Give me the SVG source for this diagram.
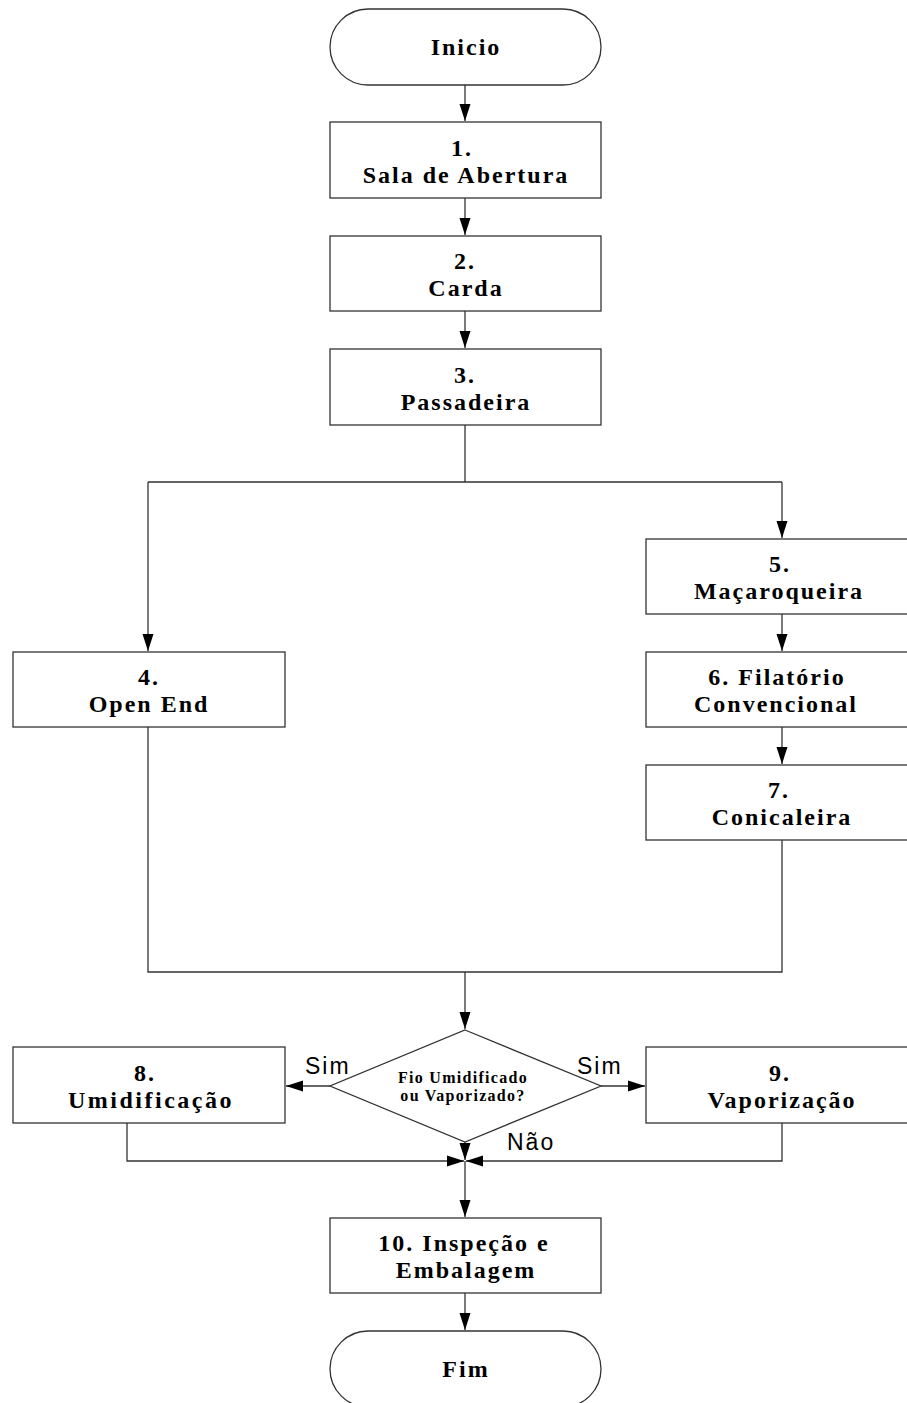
<svg xmlns="http://www.w3.org/2000/svg" width="907" height="1403" viewBox="0 0 907 1403">
<defs>
<marker id="ah" markerWidth="10" markerHeight="10" viewBox="0 0 10 10" refX="10" refY="5" orient="auto" markerUnits="userSpaceOnUse" style="overflow:visible">
<path d="M0,0 L10,5 L0,10 Z" fill="#000" transform="scale(1.7,1.1) translate(-4.1,-0.45)"/>
</marker>
<style>
.box{fill:#fff;stroke:#333;stroke-width:1.3}
.t{font-family:"Liberation Serif","Times New Roman",serif;font-weight:bold;font-size:24px;text-anchor:middle;fill:#000;letter-spacing:2px}
.d{font-family:"Liberation Serif","Times New Roman",serif;font-weight:bold;font-size:16px;text-anchor:middle;fill:#000;letter-spacing:1.3px}
.l{font-family:"Liberation Sans",Arial,sans-serif;font-size:23px;fill:#000;letter-spacing:2px}
.c{fill:none;stroke:#333;stroke-width:1.3}
</style>
</defs>
<rect width="907" height="1403" fill="#fff"/>
<g id="connectors">
<path class="c" d="M465,85 V121" marker-end="url(#ah)"/>
<path class="c" d="M465,198 V235" marker-end="url(#ah)"/>
<path class="c" d="M465,311 V348" marker-end="url(#ah)"/>
<path class="c" d="M465,425 V482 M148,482 H782"/>
<path class="c" d="M148,482 V651" marker-end="url(#ah)"/>
<path class="c" d="M782,482 V538" marker-end="url(#ah)"/>
<path class="c" d="M782,614 V651" marker-end="url(#ah)"/>
<path class="c" d="M782,727 V764" marker-end="url(#ah)"/>
<path class="c" d="M148,727 V972 H782 V840"/>
<path class="c" d="M465,972 V1029" marker-end="url(#ah)"/>
<path class="c" d="M330,1086 H286" marker-end="url(#ah)"/>
<path class="c" d="M601,1086 H645" marker-end="url(#ah)"/>
<path class="c" d="M465,1142 V1160" marker-end="url(#ah)"/>
<path class="c" d="M127,1123 V1161 H464" marker-end="url(#ah)"/>
<path class="c" d="M782,1123 V1161 H466" marker-end="url(#ah)"/>
<path class="c" d="M465,1161 V1217" marker-end="url(#ah)"/>
<path class="c" d="M465,1293 V1330" marker-end="url(#ah)"/>
</g>
<g id="inicio">
<rect class="box" x="330" y="9" width="271" height="76" rx="38" ry="38"/>
<text class="t" x="466" y="55">Inicio</text>
</g>
<g id="n1">
<rect class="box" x="330" y="122" width="271" height="76"/>
<text class="t" x="462" y="156">1.</text>
<text class="t" x="466" y="183">Sala de Abertura</text>
</g>
<g id="n2">
<rect class="box" x="330" y="236" width="271" height="75"/>
<text class="t" x="465" y="269">2.</text>
<text class="t" x="466" y="296">Carda</text>
</g>
<g id="n3">
<rect class="box" x="330" y="349" width="271" height="76"/>
<text class="t" x="465" y="383">3.</text>
<text class="t" x="466" y="410">Passadeira</text>
</g>
<g id="n4">
<rect class="box" x="13" y="652" width="272" height="75"/>
<text class="t" x="149" y="685">4.</text>
<text class="t" x="149" y="712">Open End</text>
</g>
<g id="n5">
<rect class="box" x="646" y="539" width="272" height="75"/>
<text class="t" x="780" y="572">5.</text>
<text class="t" x="779" y="599">Maçaroqueira</text>
</g>
<g id="n6">
<rect class="box" x="646" y="652" width="272" height="75"/>
<text class="t" x="777" y="685">6. Filatório</text>
<text class="t" x="776" y="712">Convencional</text>
</g>
<g id="n7">
<rect class="box" x="646" y="765" width="272" height="75"/>
<text class="t" x="779" y="798">7.</text>
<text class="t" x="782" y="825">Conicaleira</text>
</g>
<g id="decision">
<polygon class="box" points="465,1030 601,1086 465,1142 330,1086"/>
<text class="d" x="463" y="1083">Fio Umidificado</text>
<text class="d" x="463" y="1101">ou Vaporizado?</text>
</g>
<g id="n8">
<rect class="box" x="13" y="1047" width="272" height="76"/>
<text class="t" x="145" y="1081">8.</text>
<text class="t" x="151" y="1108" style="letter-spacing:2.5px">Umidificação</text>
</g>
<g id="n9">
<rect class="box" x="646" y="1047" width="272" height="76"/>
<text class="t" x="780" y="1081">9.</text>
<text class="t" x="782" y="1108">Vaporização</text>
</g>
<g id="n10">
<rect class="box" x="330" y="1218" width="271" height="75"/>
<text class="t" x="464" y="1251">10. Inspeção e</text>
<text class="t" x="466" y="1278">Embalagem</text>
</g>
<g id="fim">
<rect class="box" x="330" y="1331" width="271" height="76" rx="38" ry="38"/>
<text class="t" x="466" y="1377">Fim</text>
</g>
<g id="labels">
<text class="l" x="305" y="1074">Sim</text>
<text class="l" x="577" y="1074">Sim</text>
<text class="l" x="507" y="1150">Não</text>
</g>
</svg>
